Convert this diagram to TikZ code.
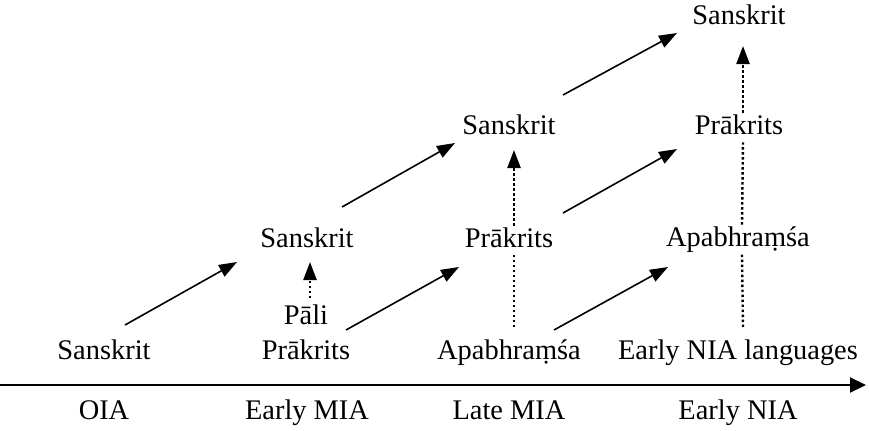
\documentclass[tikz,border=0pt]{standalone}
\usepackage{fontspec}
\setmainfont{Liberation Serif}
\usetikzlibrary{arrows.meta}

\begin{document}
\begin{tikzpicture}[x=0.5pt,y=0.5pt,
  lang/.style={font=\fontsize{14.2}{17}\selectfont,anchor=base,
    text height=10pt,text depth=3.5pt,inner sep=0.5pt},
  link/.style={line width=0.8pt,-{Triangle[length=9pt,width=6.5pt]}},
  dots/.style={line width=1.2pt,dash pattern=on 1.2pt off 1.3pt},
  dotlink/.style={dots,-{Triangle[length=9pt,width=6.5pt]}}]
  \useasboundingbox (0,0) rectangle (869,430);
  % time axis
  \coordinate (t0) at (0,45);
  \coordinate (t1) at (866,45);
  \draw[line width=1.1pt,-{Triangle[length=8pt,width=7.5pt]}] (t0) -- (t1);
  \node[lang] (oia) at (104,11) {OIA};
  \node[lang] (emia) at (307,11) {Early MIA};
  \node[lang] (lmia) at (509,11) {Late MIA};
  \node[lang] (enia) at (738,11) {Early NIA};
  % bottom row
  \node[lang] (s1) at (104,71) {Sanskrit};
  \node[lang] (p1) at (306,71) {Prākrits};
  \node[lang] (a1) at (509,71) {Apabhraṃśa};
  \node[lang] (n1) at (738,71) {Early NIA languages};
  \node[lang] (pali) at (306,106) {Pāli};
  % upper rows
  \node[lang] (s2) at (307,183) {Sanskrit};
  \node[lang] (p2) at (509,183) {Prākrits};
  \node[lang] (a2) at (738,184) {Apabhraṃśa};
  \node[lang] (s3) at (509,296) {Sanskrit};
  \node[lang] (p3) at (739,296) {Prākrits};
  \node[lang] (s4) at (739,406) {Sanskrit};
  % solid arrows
  \draw[link] ([shift={(21,34)}]s1.base) -- ([shift={(-70,-15)}]s2.base);
  \draw[link] ([shift={(40,29)}]p1.base) -- ([shift={(-50,-20)}]p2.base);
  \draw[link] ([shift={(45,29)}]a1.base) -- ([shift={(-70,-21)}]a2.base);
  \draw[link] ([shift={(35,40)}]s2.base) -- ([shift={(-54,-9)}]s3.base);
  \draw[link] ([shift={(54,34)}]p2.base) -- ([shift={(-62,-15)}]p3.base);
  \draw[link] ([shift={(54,39)}]s3.base) -- ([shift={(-62,-9)}]s4.base);
  % dotted arrows
  \draw[dotlink] ([shift={(4,26)}]pali.base) -- ([shift={(3,-15)}]s2.base);
  \draw[dots] ([shift={(5,32)}]a1.base) -- ([xshift=2.5pt]p2.south);
  \draw[dotlink] ([xshift=2.5pt]p2.north) -- ([shift={(5,-16)}]s3.base);
  \draw[dots] ([shift={(5,32)}]n1.base) -- ([xshift=2pt]a2.south);
  \draw[dots] ([xshift=2pt]a2.north) -- ([xshift=2pt]p3.south);
  \draw[dotlink] ([xshift=2pt]p3.north) -- ([shift={(4,-22)}]s4.base);
\end{tikzpicture}
\end{document}
